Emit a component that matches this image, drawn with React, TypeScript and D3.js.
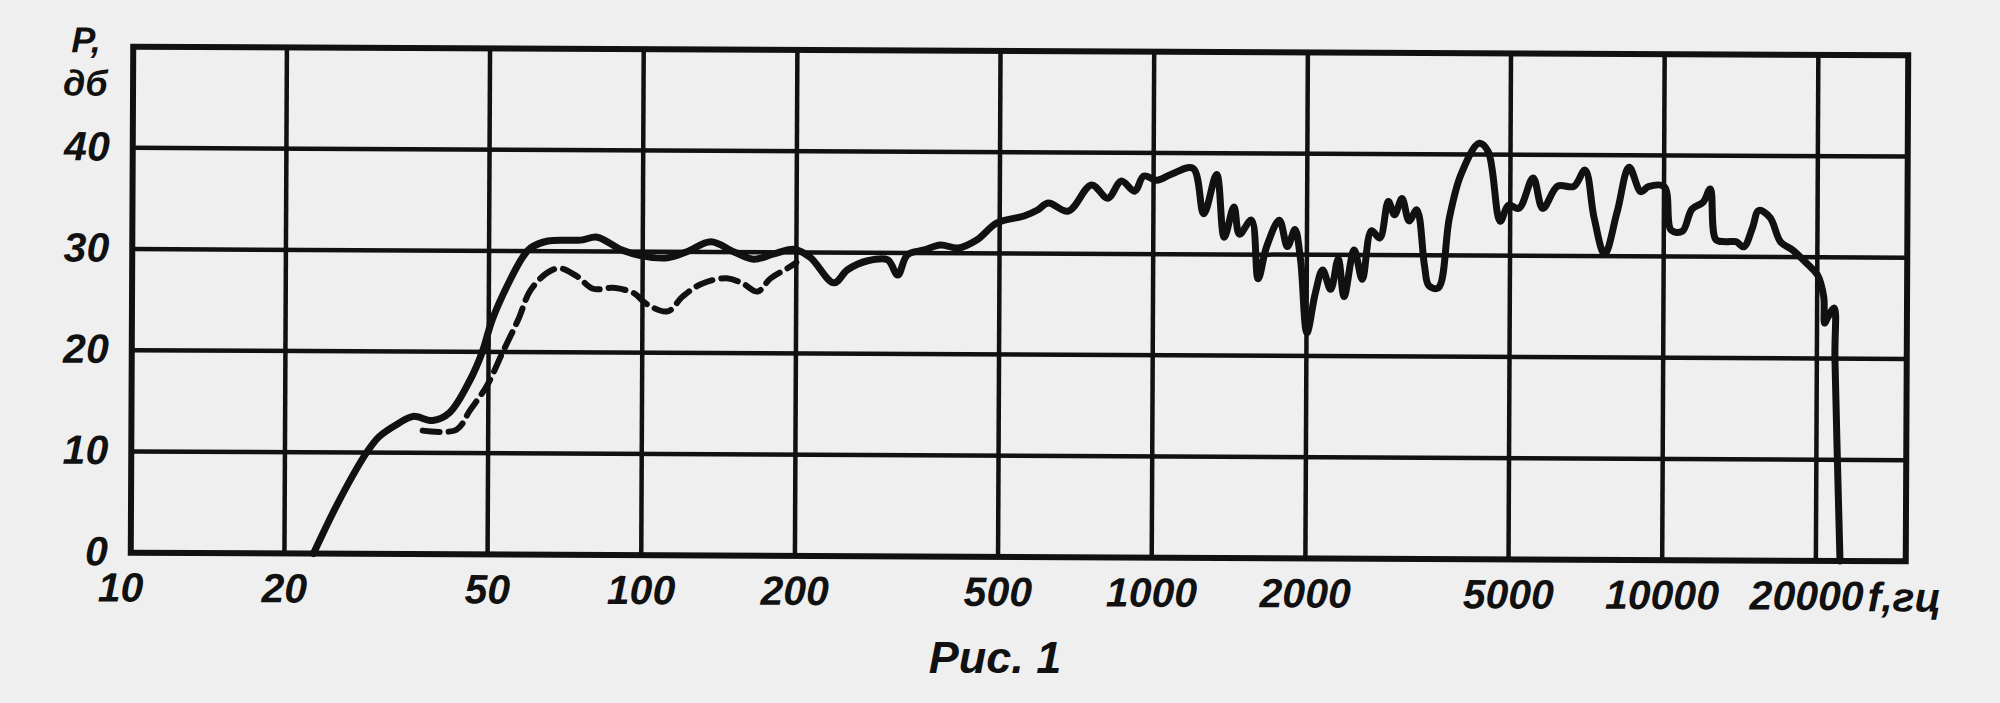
import React from "react";
import * as d3 from "d3";

const W = 2000;
const H = 703;

// Axis ticks
const xGridFreqs = [20, 50, 100, 200, 500, 1000, 2000, 5000, 10000, 20000];
const xTickLabels = ["10", "20", "50", "100", "200", "500", "1000", "2000", "5000", "10000", "20000"];
const xTickValues = [10, 20, 50, 100, 200, 500, 1000, 2000, 5000, 10000, 20000];
const yGridValues = [10, 20, 30, 40];
const yTickValues = [0, 10, 20, 30, 40];
const yTickLabels = ["0", "10", "20", "30", "40"];

// Solid curve (frequency, Hz / level, dB)
const solidFreq = [
  22.8, 25.6, 28.9, 30.6, 33.1, 35.6, 38.9, 42.0, 46.0, 48.6, 50.8, 55.1, 58.4, 60.3, 65.2, 75.6, 81.4,
  90.5, 99, 112, 122, 136, 151, 165, 180, 198, 213, 237, 252, 276, 302, 316, 330, 356, 383, 415, 451,
  494, 558, 593, 622, 681, 756, 814, 865, 918, 957, 1015, 1083, 1194, 1255, 1329, 1377, 1438, 1475,
  1556, 1606, 1668, 1765, 1832, 1894, 1944, 2004, 2079, 2148, 2228, 2304, 2368, 2475, 2569, 2674,
  2778, 2885, 2968, 3068, 3170, 3280, 3400, 3470, 3620, 3800, 4000, 4340, 4520, 4780, 4960, 5200,
  5540, 5790, 6190, 6660, 7000, 7300, 7660, 8100, 8540, 9010, 9320, 10010, 10340, 10870, 11350,
  11940, 12320, 12650, 13200, 13850, 14350, 14920, 15340, 16140, 16940, 17880, 19150, 20000, 20600,
  20700, 21000, 21600, 21700, 22300,
];
const solidDb = [
  0, 5.3, 10, 11.6, 12.8, 13.6, 13.2, 14.0, 17.2, 20, 23.2, 27.2, 29.5, 30.3, 31.0, 31.1, 31.4,
  30.2, 29.6, 29.4, 30.0, 31.0, 30.0, 29.3, 29.8, 30.3, 29.5, 27.0, 28.3, 29.2, 29.3, 27.8, 29.8, 30.3,
  30.8, 30.5, 31.3, 33.0, 33.7, 34.3, 35.0, 34.2, 36.8, 35.5, 37.2, 36.2, 37.7, 37.3, 37.9, 38.5, 34.0,
  37.9, 31.7, 34.7, 32.0, 33.4, 27.6, 30.8, 33.4, 30.8, 32.5, 29.5, 22.3, 26.2, 28.5, 26.6, 29.6, 25.9,
  30.5, 27.6, 32.4, 31.7, 35.3, 34.0, 35.6, 33.4, 34.5, 29.0, 27.0, 26.8, 33.7, 38.0, 41.1, 40.3, 33.4,
  35.0, 34.7, 37.7, 34.7, 36.9, 36.9, 38.5, 33.8, 30.2, 34.4, 38.8, 36.4, 36.9, 36.9, 32.6, 32.5, 34.7,
  35.4, 36.7, 31.7, 31.5, 31.5, 31.0, 32.9, 34.6, 33.9, 31.5, 30.7, 29.3, 28.3, 26.1, 23.5, 24.1, 25.0,
  20.0, 0,
];

// Dashed curve
const dashedFreq = [
  37.2, 43.3, 46.0, 49.7, 53.3, 57.1, 60.3, 65.2, 69, 74.5, 80, 87.7, 96, 102, 112, 120, 130, 146, 157,
  168, 178, 192, 200,
];
const dashedDb = [
  12.2, 12.3, 14.2, 16.7, 20.0, 23.2, 26.1, 27.9, 28.3, 27.5, 26.3, 26.4, 25.9, 24.8, 24.1, 25.6, 26.8,
  27.4, 26.9, 26.1, 27.4, 28.4, 29.0,
];

const yTitleTop = "Р,";
const yTitleBottom = "дб";
const xUnit = "f,гц";
const caption = "Рис. 1";

const INK = "#111";
const FONT = "'Liberation Sans', Arial, 'DejaVu Sans', sans-serif";

export default function App() {
  const left = 132;
  const right = 1907;
  const top = 51;
  const bottom = 557;

  const x = d3.scaleLog().domain([10, 30000]).range([left, right]);
  const y = d3.scaleLinear().domain([0, 50]).range([bottom, top]);

  const line = d3
    .line<[number, number]>()
    .x((d) => x(d[0]))
    .y((d) => y(d[1]))
    .curve(d3.curveCatmullRom.alpha(0.5));

  const solidPts: [number, number][] = solidFreq.map((f, i) => [f, solidDb[i]]);
  const dashedPts: [number, number][] = dashedFreq.map((f, i) => [f, dashedDb[i]]);

  const cx = (left + right) / 2;
  const cy = (top + bottom) / 2;

  const xLabelOffset = (i: number) => (i === 0 ? -10 : i === xTickValues.length - 1 ? -9 : 0);

  return (
    <svg
      width={W}
      height={H}
      viewBox={`0 0 ${W} ${H}`}
      style={{ position: "absolute", left: 0, top: 0, background: "#efefef" }}
    >
      <rect x={0} y={0} width={W} height={H} fill="#efefef" />
      <g transform={`rotate(0.28 ${cx} ${cy})`}>
        {/* horizontal grid */}
        {yGridValues.map((v) => (
          <line key={"h" + v} x1={left} x2={right} y1={y(v)} y2={y(v)} stroke={INK} strokeWidth={4.5} />
        ))}
        {/* vertical grid */}
        {xGridFreqs.map((f) => (
          <line key={"v" + f} x1={x(f)} x2={x(f)} y1={top} y2={bottom} stroke={INK} strokeWidth={4.5} />
        ))}
        {/* frame */}
        <rect
          x={left}
          y={top}
          width={right - left}
          height={bottom - top}
          fill="none"
          stroke={INK}
          strokeWidth={6}
        />
        {/* curves */}
        <path
          d={line(dashedPts) || ""}
          fill="none"
          stroke={INK}
          strokeWidth={6}
          strokeDasharray="17 9"
          strokeLinecap="round"
        />
        <path
          d={line(solidPts) || ""}
          fill="none"
          stroke={INK}
          strokeWidth={7}
          strokeLinejoin="round"
          strokeLinecap="round"
        />
        {/* y tick labels */}
        {yTickValues.map((v, i) => (
          <text
            key={"yl" + v}
            x={109}
            y={y(v) - 2}
            dy="0.36em"
            textAnchor="end"
            fontFamily={FONT}
            fontStyle="italic"
            fontWeight="bold"
            fontSize={41}
            fill={INK}
          >
            {yTickLabels[i]}
          </text>
        ))}
        {/* x tick labels */}
        {xTickValues.map((v, i) => (
          <text
            key={"xl" + v}
            x={x(v) + xLabelOffset(i)}
            y={bottom + 49}
            textAnchor="middle"
            fontFamily={FONT}
            fontStyle="italic"
            fontWeight="bold"
            fontSize={41}
            fill={INK}
          >
            {xTickLabels[i]}
          </text>
        ))}
        <text
          x={1869}
          y={bottom + 50}
          fontFamily={FONT}
          fontStyle="italic"
          fontWeight="bold"
          fontSize={41}
          fill={INK}
        >
          {xUnit}
        </text>
        {/* y title */}
        <text x={70} y={57} fontFamily={FONT} fontStyle="italic" fontWeight="bold" fontSize={36} fill={INK}>
          {yTitleTop}
        </text>
        <text x={62} y={100} fontFamily={FONT} fontStyle="italic" fontWeight="bold" fontSize={36} fill={INK}>
          {yTitleBottom}
        </text>
      </g>
      <text
        x={995}
        y={673}
        textAnchor="middle"
        fontFamily={FONT}
        fontStyle="italic"
        fontWeight="bold"
        fontSize={45}
        fill={INK}
      >
        {caption}
      </text>
    </svg>
  );
}
